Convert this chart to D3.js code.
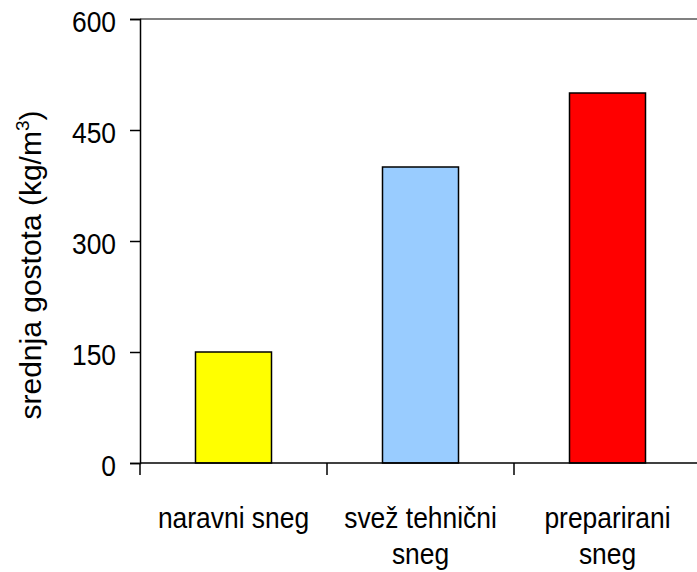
<!DOCTYPE html>
<html>
<head>
<meta charset="utf-8">
<script src="https://cdn.jsdelivr.net/npm/d3@7"></script>
<style>
  html, body { margin: 0; padding: 0; background: #fff; }
  svg { display: block; }
  text { font-family: "Liberation Sans", Arial, sans-serif; fill: #000; }
</style>
</head>
<body>
<svg id="chart" width="697" height="572"></svg>
<script>
const categories = ["naravni sneg", "svež tehnični sneg", "preparirani sneg"];
const categoryLines = [["naravni sneg"], ["svež tehnični", "sneg"], ["preparirani", "sneg"]];
const values = [150, 400, 500];
const colors = ["#ffff00", "#99ccff", "#ff0000"];
const yTicks = [0, 150, 300, 450, 600];

const svg = d3.select("#chart");
const x0 = 140, x1 = 701, yTop = 19, yBot = 463;
const narrow = 0.88;

const x = d3.scaleBand().domain(categories).range([x0, x1]).padding(0);
const y = d3.scaleLinear().domain([0, 600]).range([yBot, yTop]);
const barW = x.bandwidth() * 76 / 187;

// top frame line
svg.append("line")
  .attr("x1", x0).attr("x2", 697).attr("y1", y(600)).attr("y2", y(600))
  .attr("stroke", "#808080").attr("stroke-width", 2);

// bars
svg.selectAll("rect.bar").data(categories).enter().append("rect")
  .attr("class", "bar")
  .attr("x", d => x(d) + (x.bandwidth() - barW) / 2)
  .attr("y", (d, i) => y(values[i]))
  .attr("width", barW)
  .attr("height", (d, i) => y(0) - y(values[i]))
  .attr("fill", (d, i) => colors[i])
  .attr("stroke", "#000").attr("stroke-width", 1.5);

// y axis
const yAxis = d3.axisLeft(y).tickValues(yTicks).tickSize(10).tickFormat("");
const gy = svg.append("g").attr("transform", `translate(${x0},0)`).call(yAxis);
gy.select(".domain").attr("stroke", "#000").attr("stroke-width", 1.5);
gy.selectAll(".tick line").attr("stroke", "#000").attr("stroke-width", 1.5);
gy.selectAll(".tick").append("text")
  .attr("transform", `translate(-24,0) scale(${narrow},1)`)
  .attr("text-anchor", "end")
  .attr("dy", "0.42em")
  .style("font-size", "30px")
  .attr("fill", "#000")
  .text(d => d);

// x axis line
svg.append("line")
  .attr("x1", x0).attr("x2", 697).attr("y1", yBot).attr("y2", yBot)
  .attr("stroke", "#000").attr("stroke-width", 1.5);
// x ticks at category boundaries
const bounds = categories.map(c => x(c)).concat([x1]);
svg.selectAll("line.xt").data(bounds).enter().append("line")
  .attr("class", "xt")
  .attr("x1", d => d).attr("x2", d => d)
  .attr("y1", yBot).attr("y2", yBot + 12)
  .attr("stroke", "#000").attr("stroke-width", 1.5);

// x labels
categories.forEach((c, i) => {
  const cx = x(c) + x.bandwidth() / 2;
  const t = svg.append("text")
    .attr("text-anchor", "middle")
    .attr("transform", `translate(${cx},528) scale(${narrow},1)`)
    .style("font-size", "30px");
  categoryLines[i].forEach((ln, j) => {
    t.append("tspan").attr("x", 0).attr("y", j * 36).text(ln);
  });
});

// y label
const yl = svg.append("text")
  .attr("transform", `translate(41,${265}) rotate(-90)`)
  .attr("text-anchor", "middle")
  .style("font-size", "30px");
yl.append("tspan").text("srednja gostota (kg/m");
yl.append("tspan").attr("dy", -12).style("font-size", "19px").text("3");
yl.append("tspan").attr("dy", 12).text(")");
</script>
</body>
</html>
